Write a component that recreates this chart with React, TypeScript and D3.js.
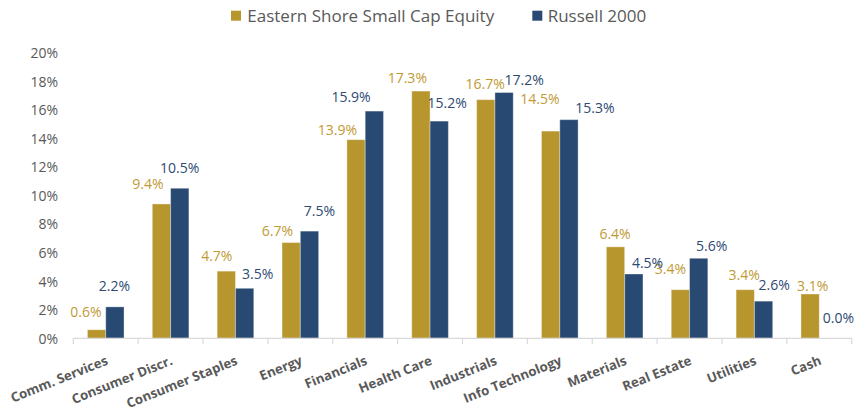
import React from "react";
import * as d3 from "d3";

const categories = [
  "Comm. Services", "Consumer Discr.", "Consumer Staples", "Energy", "Financials", "Health Care",
  "Industrials", "Info Technology", "Materials", "Real Estate", "Utilities", "Cash",
];
const seriesNames = ["Eastern Shore Small Cap Equity", "Russell 2000"];
const easternShore = [0.6, 9.4, 4.7, 6.7, 13.9, 17.3, 16.7, 14.5, 6.4, 3.4, 3.4, 3.1];
const russell2000 = [2.2, 10.5, 3.5, 7.5, 15.9, 15.2, 17.2, 15.3, 4.5, 5.6, 2.6, 0.0];
const yTicks = [0, 2, 4, 6, 8, 10, 12, 14, 16, 18, 20];

// label nudges (px) relative to bar center / bar top, to mimic the reference placement
const goldDx = [-10.6, -13.5, -9.5, -13.7, -18.6, -13.6, -0.6, -10.7, -0.5, -9.9, -1, 2.5];
const goldDy = [-18.3, -20.7, -16, -12.3, -10, -13.4, -15.7, -32.4, -13, -21.4, -15, -9];
const navyDx = [-0.5, 0, 13, 10, -23.3, 8, 20, 26, 13.7, 13, 10.6, 10];
const navyDy = [-21.3, -20.4, -15, -20.3, -15, -18.4, -13, -12.6, -11, -12.6, -16.7, -21];

const W = 865;
const H = 412;
const GOLD = "#B8962E";
const NAVY = "#284A72";
const GOLD_TXT = "#C09A35";
const NAVY_TXT = "#2E4A73";
const GRAY = "#595959";
const FONT = "'Open Sans', sans-serif";

export default function App() {
  const x = d3.scaleBand<string>().domain(categories).range([73.3, 851.7]).paddingInner(0).paddingOuter(0);
  const xs = d3.scaleBand<string>().domain(seriesNames).range([0, x.bandwidth()]).paddingInner(0).paddingOuter(0.772);
  const y = d3.scaleLinear().domain([0, 20]).range([338.3, 52.5]);
  const series = [
    { name: seriesNames[0], values: easternShore, color: GOLD, txt: GOLD_TXT, dx: goldDx, dy: goldDy },
    { name: seriesNames[1], values: russell2000, color: NAVY, txt: NAVY_TXT, dx: navyDx, dy: navyDy },
  ];
  const base = y(0);
  const bw = xs.bandwidth();

  return (
    <svg width={W} height={H} style={{ position: "absolute", left: 0, top: 0, background: "#fff" }} fontFamily={FONT}>
      {/* legend */}
      <g>
        <rect x={231} y={10.7} width={10} height={10} fill={GOLD} />
        <text x={247.3} y={21.7} fontSize={17} fill={GRAY}>{seriesNames[0]}</text>
        <rect x={532.3} y={10.7} width={10} height={10} fill={NAVY} />
        <text x={547.7} y={21.7} fontSize={17} fill={GRAY}>{seriesNames[1]}</text>
      </g>
      {/* y axis labels */}
      {yTicks.map((t) => (
        <text key={t} x={58} y={y(t)} textAnchor="end" dominantBaseline="central" fontSize={14} fill={GRAY}>
          {t}%
        </text>
      ))}
      {/* bars */}
      {series.map((s) =>
        categories.map((c, i) => {
          const bx = (x(c) as number) + (xs(s.name) as number);
          const top = y(s.values[i]);
          return (
            <rect key={s.name + c} x={bx} y={top} width={bw} height={Math.max(0, base - top)} fill={s.color}
              stroke="#ffffff" strokeOpacity={0.35} strokeWidth={1} />
          );
        })
      )}
      {/* axis */}
      <line x1={x.range()[0]} x2={x.range()[1]} y1={base} y2={base} stroke="#D9D9D9" strokeWidth={1.2} />
      {[...categories.map((c) => x(c) as number), x.range()[1]].map((tx, i) => (
        <line key={i} x1={tx} x2={tx} y1={base} y2={base + 6} stroke="#D9D9D9" strokeWidth={1.2} />
      ))}
      {/* data labels */}
      {series.map((s) =>
        categories.map((c, i) => {
          const cx = (x(c) as number) + (xs(s.name) as number) + bw / 2;
          const top = y(s.values[i]);
          return (
            <text key={"l" + s.name + c} x={cx + s.dx[i]} y={top + s.dy[i]} textAnchor="middle" dominantBaseline="central"
              fontSize={14} fill={s.txt}>
              {s.values[i].toFixed(1)}%
            </text>
          );
        })
      )}
      {/* x labels */}
      {categories.map((c) => {
        const cx = (x(c) as number) + x.bandwidth() / 2 + 3;
        const ty = 364;
        return (
          <text key={"x" + c} x={cx} y={ty} textAnchor="end" fontSize={13.2} fontWeight="bold" fill={GRAY}
            transform={`rotate(-22 ${cx} ${ty})`}>
            {c}
          </text>
        );
      })}
    </svg>
  );
}
